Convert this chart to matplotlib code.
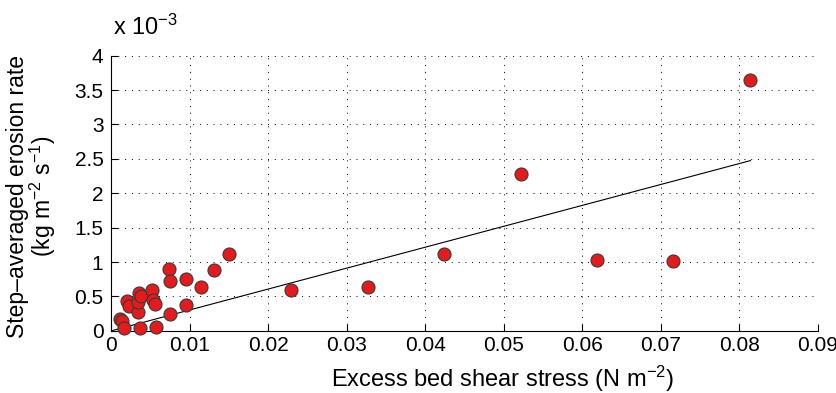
import numpy as np
import matplotlib.pyplot as plt

plt.rcParams['font.family'] = ['Liberation Sans', 'DejaVu Sans']
plt.rcParams['mathtext.default'] = 'regular'

# excess bed shear stress (N m^-2)
shear_stress = [0.00111, 0.00140, 0.00166, 0.00205, 0.00234, 0.00345, 0.00345,
                0.00358, 0.00380, 0.00375, 0.00520, 0.00533, 0.00566, 0.00571,
                0.00745, 0.00732, 0.00754, 0.00949, 0.00949, 0.01146, 0.01307,
                0.01507, 0.0229, 0.0327, 0.0424, 0.0522, 0.0619, 0.0716, 0.0814]
# step-averaged erosion rate (x 1e-3 kg m^-2 s^-1)
erosion_rate = [0.17, 0.145, 0.048, 0.44, 0.363, 0.272, 0.42,
                0.557, 0.51, 0.048, 0.60, 0.45, 0.39, 0.063,
                0.247, 0.897, 0.727, 0.756, 0.374, 0.635, 0.887,
                1.115, 0.596, 0.64, 1.115, 2.28, 1.036, 1.017, 3.648]
fit_slope = 30.4  # x 1e-3

xticks = [0, 0.01, 0.02, 0.03, 0.04, 0.05, 0.06, 0.07, 0.08, 0.09]
yticks = [0, 0.5, 1, 1.5, 2, 2.5, 3, 3.5, 4]

fig = plt.figure(figsize=(8.36, 3.93), dpi=100)
ax = fig.add_axes([0.1328, 0.158, 0.8457, 0.7005])

xfit = np.array([0, max(shear_stress)])
ax.plot(xfit, fit_slope * xfit, color='black', lw=0.8, zorder=2)
ax.scatter(shear_stress, erosion_rate, s=88, color='#e41a1c',
           edgecolors='#3a3a3a', linewidths=0.8, zorder=3, clip_on=False)

ax.set_xlim(0, 0.09)
ax.set_ylim(0, 4)
ax.set_xticks(xticks)
ax.set_xticklabels(['%g' % t for t in xticks])
ax.set_yticks(yticks)
ax.set_yticklabels(['%g' % t for t in yticks])

ax.grid(True, color='black', lw=0.7, linestyle=(0, (1, 6)))
ax.set_axisbelow(True)
for s in ['top', 'right']:
    ax.spines[s].set_visible(False)
for s in ['left', 'bottom']:
    ax.spines[s].set_linewidth(0.8)
ax.tick_params(direction='in', length=5, width=0.8, labelsize=15)
ax.tick_params(axis='x', pad=4)
ax.tick_params(axis='y', pad=5.5)

ax.set_xlabel('Excess bed shear stress (N m$^{-2}$)', fontsize=17)
ax.xaxis.set_label_coords(0.554, -0.118)
ax.set_ylabel('Step\u2013averaged erosion rate\n(kg m$^{-2}$ s$^{-1}$)',
              fontsize=16.5, linespacing=0.95)
ax.yaxis.set_label_coords(-0.075, 0.49)
ax.text(0.003, 1.075, 'x 10$^{-3}$', transform=ax.transAxes, fontsize=17,
        ha='left', va='baseline')

fig.savefig('out.png', dpi=100)
